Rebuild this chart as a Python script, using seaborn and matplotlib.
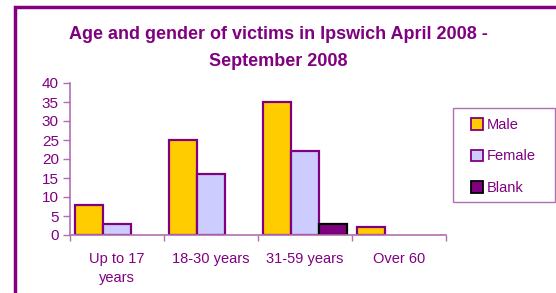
import matplotlib
matplotlib.use("Agg")
import matplotlib.pyplot as plt
import pandas as pd
import seaborn as sns
from matplotlib.patches import Rectangle

AGE_GROUPS = ["Up to 17\nyears", "18-30 years", "31-59 years", "Over 60"]
GENDERS = ["Male", "Female", "Blank"]
MALE = [8, 25, 35, 2]
FEMALE = [3, 16, 22, 0]
BLANK = [0, 0, 3, 0]

PURPLE = "#800080"
AXIS_COL = "#b070b0"
COLORS = {"Male": "#FFCC00", "Female": "#CCCCFF", "Blank": "#800080"}

rows = []
for gender, vals in zip(GENDERS, [MALE, FEMALE, BLANK]):
    for age, v in zip(AGE_GROUPS, vals):
        if v > 0:
            rows.append({"age": age, "gender": gender, "victims": v})
df = pd.DataFrame(rows)

sns.set_style("white")
plt.rcParams["font.family"] = ["Liberation Sans", "DejaVu Sans"]

fig = plt.figure(figsize=(5.56, 2.93), dpi=100)
ax = fig.add_axes([70 / 556, 1 - 235 / 293, 376 / 556, 152 / 293])

sns.barplot(data=df, x="age", y="victims", hue="gender", order=AGE_GROUPS,
            hue_order=GENDERS, palette=COLORS, saturation=1, width=0.9, ax=ax,
            edgecolor=PURPLE, linewidth=1.6, legend=False)

# the "Blank" bars have a black outline in the original
for bar in ax.containers[2]:
    bar.set_edgecolor("black")

ax.set_xlim(-0.5, 3.5)
ax.set_ylim(0, 40)
ax.set_yticks(range(0, 41, 5))
ax.set_xlabel("")
ax.set_ylabel("")
ax.set_xticks([0, 1, 2, 3])
ax.set_xticklabels(AGE_GROUPS, color=PURPLE, fontsize=10.5, linespacing=1.45)
ax.tick_params(axis="x", length=0, pad=12)
ax.tick_params(axis="y", colors=AXIS_COL, labelcolor=PURPLE, labelsize=11,
               length=5, width=1, direction="out", left=True, pad=3)
# tick marks between categories along the x axis
ax.set_xticks([-0.5, 0.5, 1.5, 2.5, 3.5], minor=True)
ax.tick_params(axis="x", which="minor", length=4, width=1, colors=AXIS_COL,
               direction="out", bottom=True)

for side in ["top", "right"]:
    ax.spines[side].set_visible(False)
for side in ["left", "bottom"]:
    ax.spines[side].set_color(AXIS_COL)
    ax.spines[side].set_linewidth(1.2)

fig.text(0.5, 1 - 39 / 293, "Age and gender of victims in Ipswich April 2008 -",
         ha="center", va="baseline", color=PURPLE, fontsize=13, fontweight="bold")
fig.text(0.5, 1 - 66 / 293, "September 2008",
         ha="center", va="baseline", color=PURPLE, fontsize=13, fontweight="bold")

# legend box drawn separately so it can match the wide frame of the original
fig.patches.append(Rectangle((453 / 556, 1 - 202 / 293), 102 / 556, 94 / 293,
                             transform=fig.transFigure, fill=False,
                             edgecolor=AXIS_COL, linewidth=1.0))
handles = [Rectangle((0, 0), 1, 1, facecolor=COLORS[g],
                     edgecolor="black" if g == "Blank" else PURPLE, linewidth=1.3)
           for g in GENDERS]
leg = fig.legend(handles, GENDERS, loc="upper left",
                 bbox_to_anchor=(471 / 556, 1 - 118 / 293), frameon=False,
                 fontsize=10.5, handlelength=0.8, handleheight=0.8,
                 handletextpad=0.25, labelspacing=1.2, borderpad=0,
                 borderaxespad=0)
for t in leg.get_texts():
    t.set_color(PURPLE)

# outer chart frame, cut off at right and bottom like the source image
fig.patches.append(Rectangle((15 / 556, -0.1), 1.0, 1 - 7 / 293 + 0.1,
                             transform=fig.transFigure, fill=False,
                             edgecolor=PURPLE, linewidth=2.5))

fig.savefig("out.png", dpi=100)
